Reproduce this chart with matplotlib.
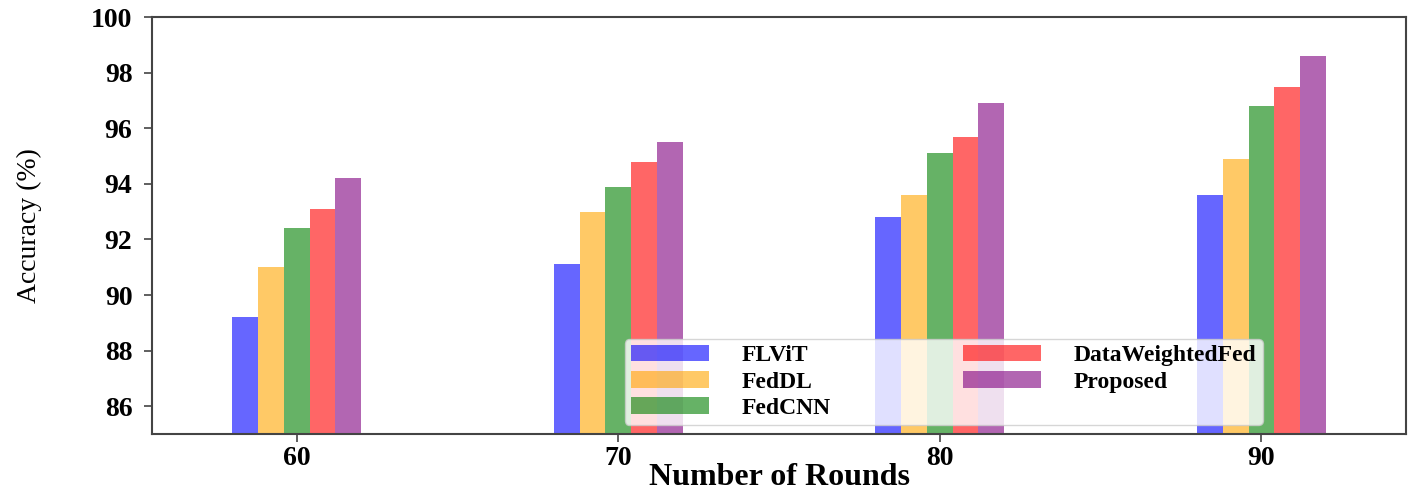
import numpy as np
import matplotlib
matplotlib.use('Agg')
import matplotlib.pyplot as plt

plt.rcParams['font.family'] = ['Liberation Serif', 'DejaVu Serif']

# Datos
rounds = [60, 70, 80, 90]
methods = ['FLViT', 'FedDL', 'FedCNN', 'DataWeightedFed', 'Proposed']
flvit = [89.2, 91.1, 92.8, 93.6]
feddl = [91.0, 93.0, 93.6, 94.9]
fedcnn = [92.4, 93.9, 95.1, 96.8]
dwfed = [93.1, 94.8, 95.7, 97.5]
proposed = [94.2, 95.5, 96.9, 98.6]
colores = ['blue', 'orange', 'green', 'red', 'purple']

series = [flvit, feddl, fedcnn, dwfed, proposed]
ancho = 0.8

fig = plt.figure(figsize=(14.16, 4.92), dpi=100)
ax = fig.add_axes([0.1073, 0.1179, 0.8857, 0.8475])

x = np.array(rounds, dtype=float)
for i, (vals, nombre, c) in enumerate(zip(series, methods, colores)):
    ax.bar(x + (i - 2) * ancho, vals, width=ancho, color=c, alpha=0.6, label=nombre)

ax.set_xlim(55.5, 94.5)
ax.set_ylim(85, 100)
ax.set_xticks(rounds)
ax.set_yticks([86, 88, 90, 92, 94, 96, 98, 100])
ax.tick_params(axis='both', labelsize=20, length=6, width=1.2, color='#444444')
ax.tick_params(axis='y', pad=8)
ax.tick_params(axis='x', pad=3)
for lab in ax.get_xticklabels() + ax.get_yticklabels():
    lab.set_fontweight('bold')

for s in ax.spines.values():
    s.set_color('#444444')
    s.set_linewidth(1.5)

ax.set_xlabel('Number of Rounds', fontsize=23, fontweight='bold')
ax.xaxis.label.set_va('baseline')
ax.xaxis.set_label_coords(0.5, -0.122)
ax.set_ylabel('Accuracy (%)', fontsize=20)
ax.yaxis.set_label_coords(-0.088, 0.5)

ax.legend(ncol=2, loc='lower left', bbox_to_anchor=(0.377, 0.022), borderaxespad=0,
          prop={'size': 17, 'weight': 'bold'}, handlelength=3.3, handletextpad=1.4,
          columnspacing=5.6, labelspacing=0.2, borderpad=0.25)

plt.savefig('out.png', dpi=100)
